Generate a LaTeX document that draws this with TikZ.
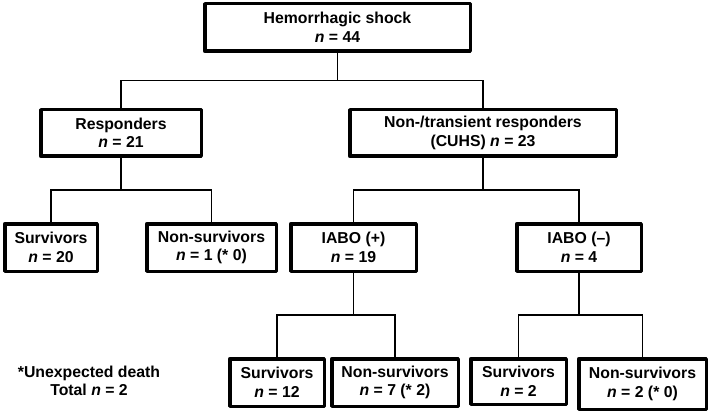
\documentclass[tikz,border=0pt]{standalone}
\usepackage{fontspec}
\setmainfont{Liberation Sans}
\usetikzlibrary{calc}
\tikzset{>=latex}

\begin{document}
\begin{tikzpicture}[x=1pt, y=-1pt,
            box/.style={draw, line width=3.5pt, line join=round, align=center, inner sep=1pt, font=\bfseries\fontsize{15.8}{18.5}\selectfont},
            link/.style={draw, line width=1.6pt},
            note/.style={align=center, font=\bfseries\fontsize{15.8}{18.5}\selectfont}
        ]
            \useasboundingbox (0,0) rectangle (709,414);
            % first levels
            \node[box, minimum width=265.5pt, minimum height=47.5pt] (shock) at (337.5, 27.5) {Hemorrhagic shock\\\textit{n} = 44};
            \node[box, minimum width=160.5pt, minimum height=46.5pt] (resp) at (121, 133) {Responders\\\textit{n} = 21};
            \node[box, minimum width=266.5pt, minimum height=46.5pt] (nontr) at (483, 133) {Non-/transient responders\\(CUHS) \textit{n} = 23};
            \node[box, minimum width=92.5pt, minimum height=47.5pt] (surva) at (51, 247.5) {Survivors\\\textit{n} = 20};
            \node[box, minimum width=129.5pt, minimum height=47.5pt] (nonsa) at (211.5, 247.5) {Non-survivors\\\textit{n} = 1 (* 0)};
            \node[box, minimum width=125.5pt, minimum height=47.5pt] (iabop) at (353.5, 247.5) {IABO (+)\\\textit{n} = 19};
            \node[box, minimum width=124.5pt, minimum height=47.5pt] (iabom) at (579, 247.5) {IABO (--)\\\textit{n} = 4};
            % last level
            \node[box, minimum width=94.5pt, minimum height=47.5pt] (survb) at (277, 382.5) {Survivors\\\textit{n} = 12};
            \node[box, minimum width=126.5pt, minimum height=47.5pt] (nonsb) at (395, 382.5) {Non-survivors\\\textit{n} = 7 (* 2)};
            \node[box, minimum width=95.5pt, minimum height=45.5pt] (survc) at (518.5, 381.5) {Survivors\\\textit{n} = 2};
            \node[box, minimum width=127.5pt, minimum height=50.5pt] (nonsc) at (642.5, 384) {Non-survivors\\\textit{n} = 2 (* 0)};
            % label
            \node[note] (death) at (89, 381) {*Unexpected death\\Total \textit{n} = 2};
            % paths
            \foreach \p/\c in {shock/resp, shock/nontr, resp/surva, resp/nonsa, nontr/iabop, nontr/iabom, iabop/survb, iabop/nonsb, iabom/survc, iabom/nonsc}
                \draw[link] (\p.south) |- ($(\p.south)!.5!(\c.north)$) -| (\c.north);
        \end{tikzpicture}
\end{document}
